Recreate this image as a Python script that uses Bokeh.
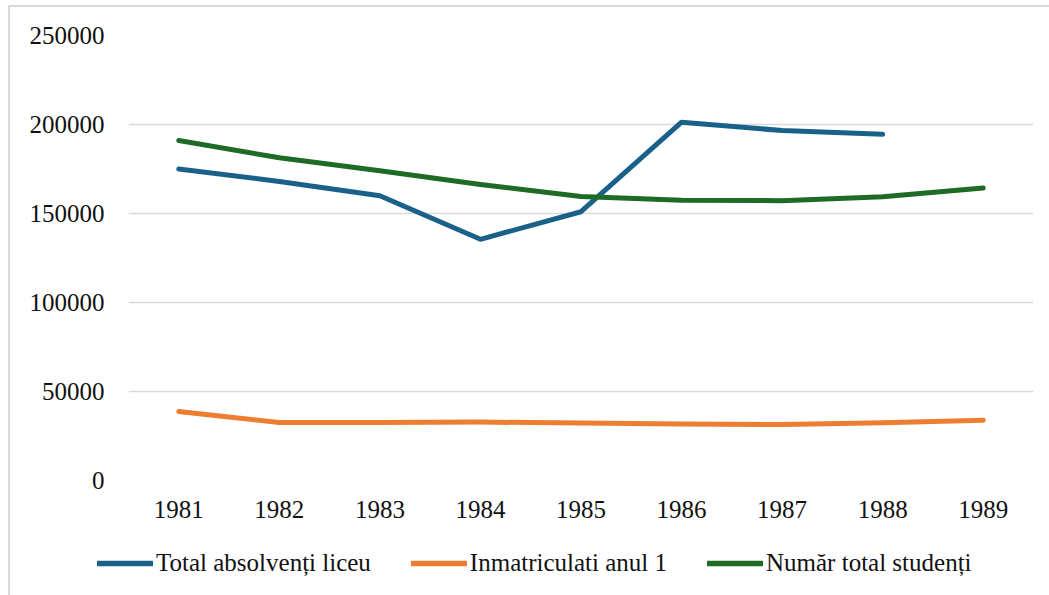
import numpy as np
from bokeh.plotting import figure
from bokeh.layouts import column, row
from bokeh.models import FactorRange, Range1d, FixedTicker, BasicTickFormatter, Legend, LegendItem
from bokeh.embed import file_html
from bokeh.resources import INLINE

years = ["1981", "1982", "1983", "1984", "1985", "1986", "1987", "1988", "1989"]
absolventi = [175000, 168000, 160000, 135500, 151000, 201300, 196600, 194500, np.nan]
inmatriculati = [38800, 32600, 32600, 32800, 32300, 31800, 31400, 32400, 33900]
studenti = [191000, 181300, 174000, 166300, 159600, 157500, 157200, 159400, 164300]
names = ["Total absolvenți liceu", "Inmatriculati anul 1", "Număr total studenți"]
colors = ["#196188", "#ED7D31", "#1D6B25"]
y_ticks = [0, 50000, 100000, 150000, 200000, 250000]

FONT = "Liberation Serif"

p = figure(width=1039, height=530, x_range=FactorRange(*years, range_padding=0),
           y_range=Range1d(0, 250000), output_backend="svg", toolbar_location=None,
           min_border_left=118, min_border_right=16, min_border_top=28, min_border_bottom=57)
p.outline_line_color = None
p.background_fill_color = "white"
p.border_fill_color = "white"

p.xgrid.grid_line_color = None
p.ygrid.grid_line_color = "#d9d9d9"
p.ygrid.grid_line_width = 1.5
p.yaxis.ticker = FixedTicker(ticks=y_ticks)
p.yaxis.formatter = BasicTickFormatter(use_scientific=False)

for ax in (p.xaxis[0], p.yaxis[0]):
    ax.axis_line_color = None
    ax.major_tick_line_color = None
    ax.minor_tick_line_color = None
    ax.major_tick_in = 0
    ax.major_tick_out = 0
    ax.major_label_text_font = FONT
    ax.major_label_text_font_size = "25px"
    ax.major_label_text_color = "#111111"
p.yaxis.major_label_standoff = 24
p.xaxis.major_label_standoff = 20

series = [absolventi, inmatriculati, studenti]
for vals, c in zip(series, colors):
    xs = [y for y, v in zip(years, vals) if not np.isnan(v)]
    ys = [v for v in vals if not np.isnan(v)]
    p.line(xs, ys, line_color=c, line_width=5, line_cap="round", line_join="round")

# legend strip below the chart (its own small figure)
q = figure(width=1039, height=58, x_range=Range1d(0, 1), y_range=Range1d(0, 1),
           output_backend="svg", toolbar_location=None,
           x_axis_location=None, y_axis_location=None,
           min_border_left=0, min_border_right=0, min_border_top=0, min_border_bottom=0)
q.grid.visible = False
q.outline_line_color = None
q.border_fill_color = "white"
q.background_fill_color = "white"
items = []
for n, c in zip(names, colors):
    r = q.line([np.nan], [np.nan], line_color=c, line_width=5.5, line_cap="round")
    items.append(LegendItem(label=n, renderers=[r]))
legend = Legend(items=items, orientation="horizontal", location=(87, 18),
                label_text_font=FONT, label_text_font_size="25px", label_text_color="#111111",
                glyph_width=56, glyph_height=20, label_standoff=3, spacing=40,
                padding=0, margin=0, border_line_color=None, background_fill_alpha=0)
q.add_layout(legend, "center")

layout = column(p, row(q), spacing=0)
layout.styles = {"border-top": "2px solid #d9d9d9", "border-left": "2px solid #d9d9d9",
                 "margin-left": "8px", "margin-top": "5px"}

open("out.html", "w").write(file_html(layout, INLINE))
